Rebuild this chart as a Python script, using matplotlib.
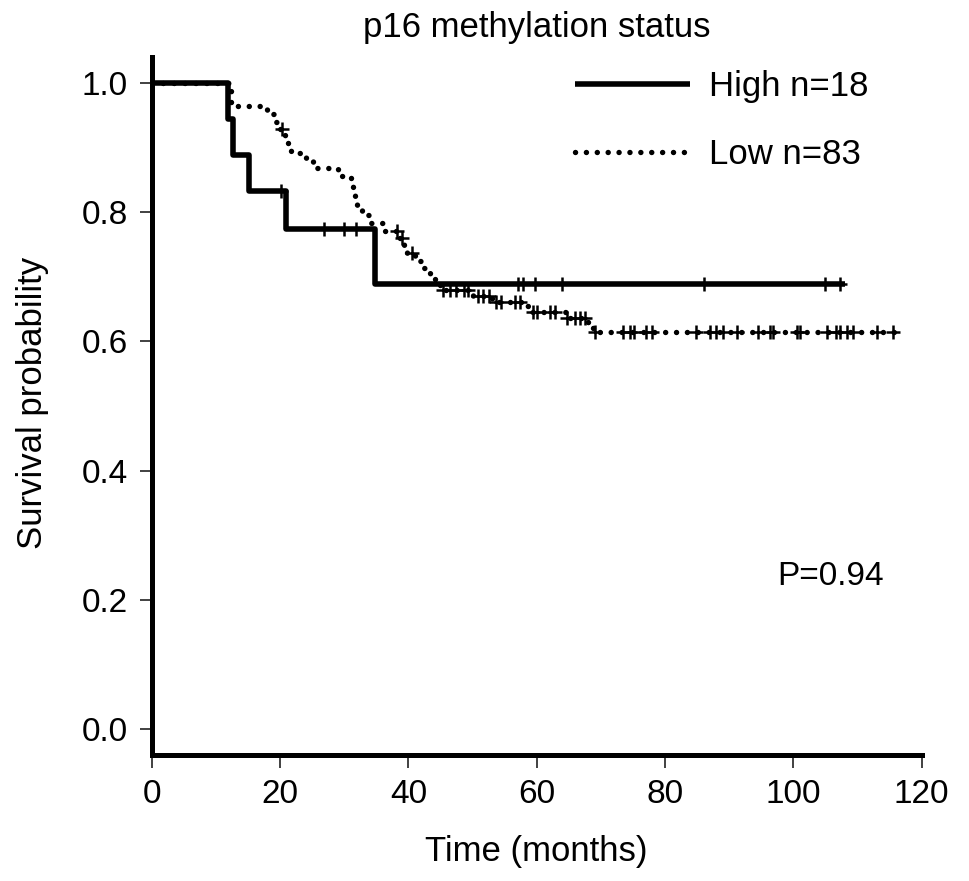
import matplotlib
matplotlib.use("Agg")
import matplotlib.pyplot as plt
import numpy as np

plt.rcParams['font.family'] = ['Liberation Sans', 'DejaVu Sans']

# Kaplan-Meier steps (time in months, survival)
high_t = [0, 11.9, 12.7, 15.1, 20.9, 34.8, 108.0]
high_s = [1.0, 0.944, 0.889, 0.833, 0.774, 0.688, 0.688]
high_cens = [20.1, 26.9, 29.9, 31.8, 57.1, 57.9, 59.7, 64.0, 86.0, 105.0, 107.3]

low_t = [0, 12.3, 17.9, 19.0, 19.7, 20.8, 21.3, 21.7, 24.0, 25.2, 29.1, 31.1,
         31.4, 31.7, 32.0, 32.7, 33.8, 36.4, 38.6, 39.3, 39.8, 41.0, 42.3, 43.3,
         44.2, 45.0, 50.0, 53.0, 58.0, 59.0, 64.5, 68.0, 68.8, 116.6]
low_s = [1.0, 0.964, 0.952, 0.940, 0.928, 0.916, 0.904, 0.892, 0.880, 0.868,
         0.856, 0.843, 0.831, 0.819, 0.807, 0.795, 0.783, 0.771, 0.760, 0.748,
         0.736, 0.725, 0.713, 0.702, 0.690, 0.679, 0.670, 0.661, 0.654, 0.645,
         0.636, 0.626, 0.615, 0.615]
low_cens = [20.3, 38.2, 39.0, 40.5, 45.4, 46.5, 47.5, 48.6, 49.3, 50.9, 51.7,
            52.5, 53.6, 54.5, 56.6, 57.4, 59.5, 60.0, 62.1, 62.9, 64.7, 66.0,
            66.8, 67.5, 69.1, 73.5, 74.6, 75.1, 77.0, 78.0, 84.9, 87.0, 88.0,
            89.1, 91.2, 94.5, 96.4, 96.9, 100.5, 101.0, 105.2, 106.7, 107.3,
            108.3, 109.3, 113.0, 115.6]

labels = ["High n=18", "Low n=83"]
p_text = "P=0.94"


def level_at(t, s, c):
    idx = np.searchsorted(t, c, side='right') - 1
    return np.asarray(s)[idx]


fig = plt.figure(figsize=(9.69, 8.81), dpi=100)
W, H = 969, 881
ax = fig.add_axes([151.7 / W, 1 - 755 / H, 770 / W, 698 / H])

low_line, = ax.step(low_t, low_s, where='post', color='black', lw=3.9,
                    linestyle=(0, (0.01, 2.0)), dash_capstyle='round',
                    zorder=2)
high_line, = ax.step(high_t, high_s, where='post', color='black', lw=4.0,
                     solid_capstyle='butt', zorder=3)

ax.plot(high_cens, level_at(high_t, high_s, high_cens), '+', color='black',
        ms=10, mew=1.8, zorder=4)
ax.plot(low_cens, level_at(low_t, low_s, low_cens), '+', color='black',
        ms=10, mew=1.8, zorder=4)

ax.set_xlim(0, 120)
ax.set_ylim(-0.04, 1.04)
ax.set_xticks(np.arange(0, 121, 20))
ax.set_yticks(np.arange(0, 1.01, 0.2))
ax.set_yticklabels(["%.1f" % v for v in np.arange(0, 1.01, 0.2)])

for side in ['top', 'right']:
    ax.spines[side].set_visible(False)
for side in ['left', 'bottom']:
    ax.spines[side].set_linewidth(3.6)
    ax.spines[side].set_capstyle('projecting')
ax.tick_params(direction='out', length=9, width=1.3, pad=8, labelsize=24,
               color='#333333')

ax.text(97.5, 0.236, p_text, fontsize=24, ha='left', va='center')

fig.text(536.7 / W, 1 - 27 / H, "p16 methylation status", fontsize=25,
         ha='center', va='center')
fig.text(536.7 / W, 1 - 852 / H, "Time (months)", fontsize=25,
         ha='center', va='center')
fig.text(33 / W, 1 - 403 / H, "Survival probability", fontsize=25,
         ha='center', va='center', rotation=90)

ax.legend([high_line, low_line], labels, loc='upper left',
          bbox_to_anchor=(575 / W, 1 - 70 / H),
          bbox_transform=fig.transFigure, frameon=False, fontsize=25,
          handlelength=3.3, handletextpad=0.55, labelspacing=1.0,
          borderpad=0, borderaxespad=0)

fig.savefig("out.png", dpi=100)
